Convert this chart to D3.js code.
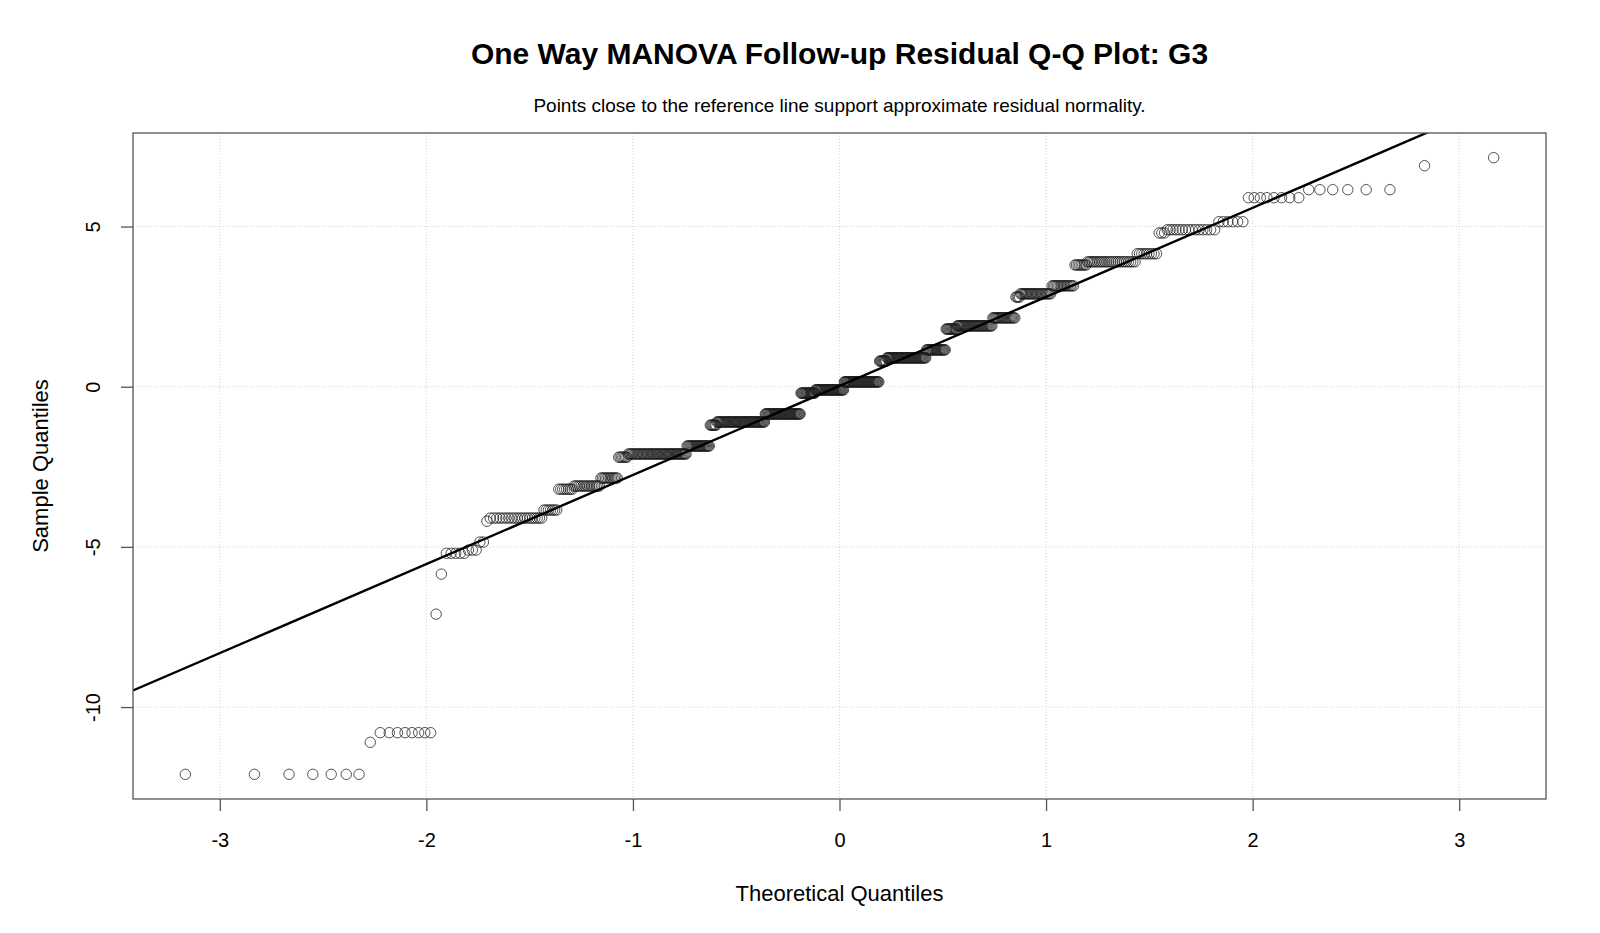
<!DOCTYPE html>
<html>
<head>
<meta charset="utf-8">
<script src="https://cdn.jsdelivr.net/npm/d3@7"></script>
<style>
  body { margin: 0; background: #fff; }
  text { font-family: "Liberation Sans", Arial, sans-serif; fill: #000; }
</style>
</head>
<body>
<div class="chart"></div>
<script>
var width = 1600,
    height = 933;

// distinct residual values (sorted) and how many residuals sit at each value
var residualLevels = [-12.1, -11.1, -10.8, -7.1, -5.85, -5.2, -5.1, -4.85, -4.2, -4.1,
  -3.85, -3.2, -3.1, -2.85, -2.2, -2.1, -1.85, -1.2, -1.1, -0.85,
  -0.2, -0.1, 0.15, 0.8, 0.9, 1.15, 1.8, 1.9, 2.15, 2.8,
  2.9, 3.15, 3.8, 3.9, 4.15, 4.8, 4.9, 5.15, 5.9, 6.15,
  6.9, 7.15];
var levelCounts = [7, 1, 8, 1, 1, 5, 3, 2, 1, 20,
  7, 8, 16, 12, 7, 50, 23, 7, 54, 43,
  18, 36, 44, 9, 47, 22, 12, 36, 21, 4,
  25, 16, 8, 26, 9, 3, 15, 6, 8, 6,
  1, 1];

var xTicks = [-3, -2, -1, 0, 1, 2, 3];
var yTicks = [-10, -5, 0, 5];

var titleText = "One Way MANOVA Follow-up Residual Q-Q Plot: G3";
var subtitleText = "Points close to the reference line support approximate residual normality.";

// inverse normal cdf (Acklam)
function qnorm(p) {
  var a = [-3.969683028665376e+01, 2.209460984245205e+02, -2.759285104469687e+02, 1.383577518672690e+02, -3.066479806614716e+01, 2.506628277459239e+00];
  var b = [-5.447609879822406e+01, 1.615858368580409e+02, -1.556989798598866e+02, 6.680131188771972e+01, -1.328068155288572e+01];
  var c = [-7.784894002430293e-03, -3.223964580411365e-01, -2.400758277161838e+00, -2.549732539343734e+00, 4.374664141464968e+00, 2.938163982698783e+00];
  var d = [7.784695709041462e-03, 3.224671290700398e-01, 2.445134137142996e+00, 3.754408661907416e+00];
  var pl = 0.02425, q, r;
  if (p < pl) {
    q = Math.sqrt(-2 * Math.log(p));
    return (((((c[0]*q+c[1])*q+c[2])*q+c[3])*q+c[4])*q+c[5]) / ((((d[0]*q+d[1])*q+d[2])*q+d[3])*q+1);
  } else if (p <= 1 - pl) {
    q = p - 0.5; r = q * q;
    return (((((a[0]*r+a[1])*r+a[2])*r+a[3])*r+a[4])*r+a[5])*q / (((((b[0]*r+b[1])*r+b[2])*r+b[3])*r+b[4])*r+1);
  } else {
    q = Math.sqrt(-2 * Math.log(1 - p));
    return -(((((c[0]*q+c[1])*q+c[2])*q+c[3])*q+c[4])*q+c[5]) / ((((d[0]*q+d[1])*q+d[2])*q+d[3])*q+1);
  }
}

// expand into the sorted sample
var sample = [];
residualLevels.forEach(function(v, i) {
  for (let k = 0; k < levelCounts[i]; k++) sample.push(v);
});
var n = sample.length;
var points = sample.map(function(v, i) {
  return { x: qnorm((i + 1 - 0.5) / n), y: v };
});

// qqline through the quartiles
var q1 = d3.quantile(sample, 0.25),
    q3 = d3.quantile(sample, 0.75);
var slope = (q3 - q1) / (qnorm(0.75) - qnorm(0.25));
var intercept = q1 - slope * qnorm(0.25);

var plot = { left: 133, right: 1546, top: 133, bottom: 799 };

function padded(ext) {
  var r = (ext[1] - ext[0]) * 0.04;
  return [ext[0] - r, ext[1] + r];
}

var x = d3.scaleLinear()
    .domain(padded(d3.extent(points, function(d) { return d.x; })))
    .range([plot.left, plot.right]);
var y = d3.scaleLinear()
    .domain(padded(d3.extent(points, function(d) { return d.y; })))
    .range([plot.bottom, plot.top]);

var svg = d3.select(".chart").append("svg")
    .attr("width", width)
    .attr("height", height);

svg.append("clipPath").attr("id", "clip")
  .append("rect")
    .attr("x", plot.left).attr("y", plot.top)
    .attr("width", plot.right - plot.left)
    .attr("height", plot.bottom - plot.top);

// grid
var grid = svg.append("g");
grid.selectAll(".gx").data(xTicks).enter().append("line")
    .attr("x1", function(d) { return x(d); }).attr("x2", function(d) { return x(d); })
    .attr("y1", plot.top).attr("y2", plot.bottom);
grid.selectAll(".gy").data(yTicks).enter().append("line")
    .attr("y1", function(d) { return y(d); }).attr("y2", function(d) { return y(d); })
    .attr("x1", plot.left).attr("x2", plot.right);
grid.selectAll("line")
    .attr("stroke", "#d3d3d3")
    .attr("stroke-width", 1)
    .attr("stroke-dasharray", "1,2");

// points
svg.append("g").selectAll("circle")
    .data(points)
    .enter()
    .append("circle")
    .attr("cx", function(d) { return x(d.x); })
    .attr("cy", function(d) { return y(d.y); })
    .attr("r", 5.2)
    .attr("fill", "none")
    .attr("stroke", "#1a1a1a")
    .attr("stroke-opacity", 0.75)
    .attr("stroke-width", 1);

// reference line
var xd = x.domain();
svg.append("line")
    .attr("clip-path", "url(#clip)")
    .attr("x1", x(xd[0])).attr("y1", y(intercept + slope * xd[0]))
    .attr("x2", x(xd[1])).attr("y2", y(intercept + slope * xd[1]))
    .attr("stroke", "#000")
    .attr("stroke-width", 2.4);

// box
svg.append("rect")
    .attr("x", plot.left).attr("y", plot.top)
    .attr("width", plot.right - plot.left)
    .attr("height", plot.bottom - plot.top)
    .attr("fill", "none")
    .attr("stroke", "#555")
    .attr("stroke-width", 1.3);

// axes
var fmt = function(d) { return String(d); };
var xAxis = svg.append("g")
    .attr("transform", "translate(0," + plot.bottom + ")")
    .call(d3.axisBottom(x).tickValues(xTicks).tickSize(12).tickPadding(22).tickFormat(fmt));
var yAxis = svg.append("g")
    .attr("transform", "translate(" + plot.left + ",0)")
    .call(d3.axisLeft(y).tickValues(yTicks).tickSize(12).tickFormat(fmt));
[xAxis, yAxis].forEach(function(g) {
  g.select(".domain").remove();
  g.selectAll(".tick line").attr("stroke", "#555").attr("stroke-width", 1.3);
  g.selectAll(".tick text")
    .style("font-family", "'Liberation Sans', Arial, sans-serif")
    .style("font-size", "20px")
    .attr("fill", "#000");
});
yAxis.selectAll(".tick text")
    .attr("x", null).attr("dy", null)
    .attr("text-anchor", "middle")
    .attr("transform", "translate(-40,0) rotate(-90)")
    .attr("dominant-baseline", "central");

// titles
svg.append("text")
    .attr("x", (plot.left + plot.right) / 2).attr("y", 64)
    .attr("text-anchor", "middle")
    .style("font-size", "30px").style("font-weight", "bold")
    .text(titleText);
svg.append("text")
    .attr("x", (plot.left + plot.right) / 2).attr("y", 112)
    .attr("text-anchor", "middle")
    .style("font-size", "19px")
    .text(subtitleText);
svg.append("text")
    .attr("x", (plot.left + plot.right) / 2).attr("y", 901)
    .attr("text-anchor", "middle")
    .style("font-size", "22px")
    .text("Theoretical Quantiles");
svg.append("text")
    .attr("transform", "translate(48," + (plot.top + plot.bottom) / 2 + ") rotate(-90)")
    .attr("text-anchor", "middle")
    .style("font-size", "22px")
    .text("Sample Quantiles");
</script>
</body>
</html>
